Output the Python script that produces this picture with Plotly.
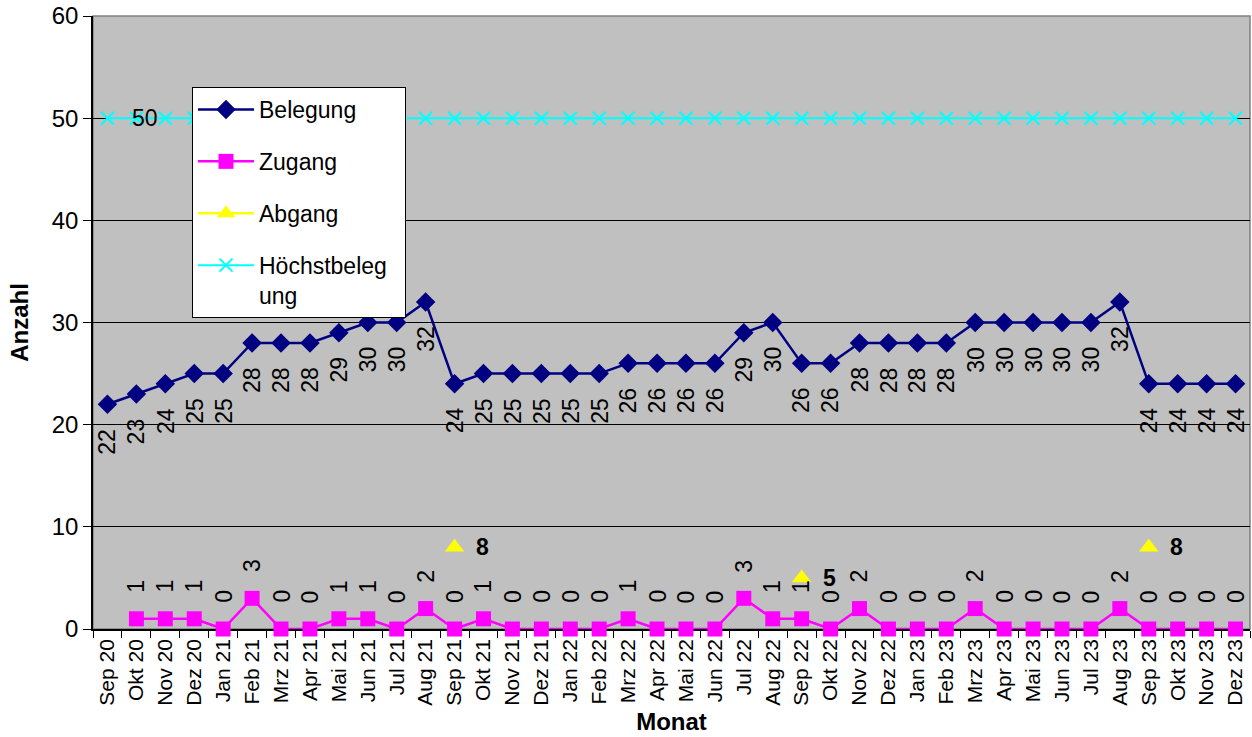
import plotly.graph_objects as go

months = ["Sep 20", "Okt 20", "Nov 20", "Dez 20", "Jan 21", "Feb 21", "Mrz 21", "Apr 21",
          "Mai 21", "Jun 21", "Jul 21", "Aug 21", "Sep 21", "Okt 21", "Nov 21", "Dez 21",
          "Jan 22", "Feb 22", "Mrz 22", "Apr 22", "Mai 22", "Jun 22", "Jul 22", "Aug 22",
          "Sep 22", "Okt 22", "Nov 22", "Dez 22", "Jan 23", "Feb 23", "Mrz 23", "Apr 23",
          "Mai 23", "Jun 23", "Jul 23", "Aug 23", "Sep 23", "Okt 23", "Nov 23", "Dez 23"]

belegung = [22, 23, 24, 25, 25, 28, 28, 28, 29, 30, 30, 32, 24, 25, 25, 25, 25, 25, 26, 26,
            26, 26, 29, 30, 26, 26, 28, 28, 28, 28, 30, 30, 30, 30, 30, 32, 24, 24, 24, 24]

zugang = [None, 1, 1, 1, 0, 3, 0, 0, 1, 1, 0, 2, 0, 1, 0, 0, 0, 0, 1, 0,
          0, 0, 3, 1, 1, 0, 2, 0, 0, 0, 2, 0, 0, 0, 0, 2, 0, 0, 0, 0]

abgang = [None] * 12 + [8] + [None] * 11 + [5] + [None] * 11 + [8] + [None] * 3

hoechst = [50] * 40

FONT = "Liberation Sans, Arial, sans-serif"

fig = go.Figure()

fig.add_trace(go.Scatter(
    x=months, y=belegung, name="Belegung", mode="lines+markers",
    line=dict(color="#000080", width=2.5),
    marker=dict(symbol="diamond", size=15, color="#000080"),
    legendgroup="a", cliponaxis=False))
fig.add_trace(go.Scatter(
    x=months, y=zugang, name="Zugang", mode="lines+markers",
    line=dict(color="#FF00FF", width=2.5),
    marker=dict(symbol="square", size=15, color="#FF00FF"),
    legendgroup="b", cliponaxis=False))
fig.add_trace(go.Scatter(
    x=months, y=abgang, name="Abgang", mode="lines+markers",
    line=dict(color="#FFFF00", width=2.5),
    marker=dict(symbol="triangle-up", size=17, color="#FFFF00"),
    legendgroup="c", cliponaxis=False))
fig.add_trace(go.Scatter(
    x=months, y=hoechst, name="Höchstbeleg&nbsp;&nbsp;<br>ung", mode="lines+markers",
    line=dict(color="#00FFFF", width=2),
    marker=dict(symbol="x-thin-open", size=13, color="#00FFFF", line=dict(width=2, color="#00FFFF")),
    legendgroup="d", cliponaxis=False))

annotations = []
for m, v in zip(months, belegung):
    annotations.append(dict(x=m, y=v, xref="x", yref="y", text=str(v), showarrow=False,
                            textangle=-90, yanchor="top", xanchor="center", yshift=-22,
                            font=dict(family=FONT, size=23, color="black")))
for m, v in zip(months, zugang):
    if v is None:
        continue
    annotations.append(dict(x=m, y=v, xref="x", yref="y", text=str(v), showarrow=False,
                            textangle=-90, yanchor="bottom", xanchor="center", yshift=24,
                            font=dict(family=FONT, size=23, color="black")))
for m, v in zip(months, abgang):
    if v is None:
        continue
    annotations.append(dict(x=m, y=v, xref="x", yref="y", text="<b>" + str(v) + "</b>",
                            showarrow=False, xanchor="left", yanchor="middle", xshift=19,
                            font=dict(family=FONT, size=23, color="black")))
annotations.append(dict(x=months[0], y=hoechst[0], xref="x", yref="y", text=str(hoechst[0]),
                        showarrow=False, xanchor="center", yanchor="middle", xshift=38,
                        font=dict(family=FONT, size=23, color="black")))

fig.update_layout(
    width=1252, height=737,
    margin=dict(l=93, r=2, t=16, b=108),
    paper_bgcolor="white", plot_bgcolor="#C0C0C0",
    font=dict(family=FONT, color="black"),
    showlegend=True,
    legend=dict(x=(192 - 93) / 1157, y=(629 - 87) / 613, xanchor="left", yanchor="top",
                bgcolor="white", bordercolor="#000000", borderwidth=1,
                font=dict(family=FONT, size=23, color="black"),
                itemwidth=56, tracegroupgap=19, traceorder="grouped", valign="top"),
    annotations=annotations,
    xaxis=dict(type="category", range=[-0.5, 39.5], tickangle=-90,
               tickfont=dict(family=FONT, size=21, color="black"),
               ticks="outside", tickson="boundaries", ticklen=7, tickcolor="black",
               showline=True, linecolor="black", linewidth=1.5, showgrid=False,
               layer="below traces",
               title=dict(text="<b>Monat</b>", font=dict(family=FONT, size=24), standoff=8)),
    yaxis=dict(range=[0, 60], dtick=10, tickfont=dict(family=FONT, size=24, color="black"),
               ticks="outside", ticklen=8, tickcolor="black",
               showline=True, linecolor="black", linewidth=1.5,
               showgrid=True, gridcolor="black", gridwidth=1, zeroline=False,
               title=dict(text="<b>Anzahl</b>", font=dict(family=FONT, size=24), standoff=16)),
    shapes=[dict(type="rect", xref="paper", yref="paper", x0=0, y0=0, x1=1, y1=1,
                 line=dict(color="#808080", width=1.5), layer="below")],
)

fig.write_html("out.html", config={"displayModeBar": False},
               post_script="document.body.style.margin='0px';")
